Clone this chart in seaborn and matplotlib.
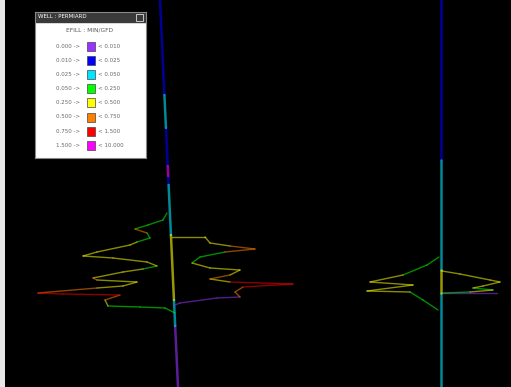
import numpy as np
import pandas as pd
import matplotlib
matplotlib.use("Agg")
import matplotlib.pyplot as plt
from matplotlib.patches import Rectangle
import seaborn as sns

# legend bins (permeability classes)
bin_low = ["0.000", "0.010", "0.025", "0.050", "0.250", "0.500", "0.750", "1.500"]
bin_high = ["0.010", "0.025", "0.050", "0.250", "0.500", "0.750", "1.500", "10.000"]
bin_colors = ["#9933ff", "#0000ff", "#00e5ff", "#00ff00", "#ffff00", "#ff8000", "#ff0000", "#ff00ff"]

# well tracks: top/bottom position of each well (x, depth)
well1_x = [160, 178]
well1_depth = [0, 387]
well2_x = [441, 441]
well2_depth = [0, 387]

# track intervals: depth top, depth bottom, class
well1_top = [0, 95, 128, 166, 176, 185, 235, 300, 326]
well1_bot = [95, 128, 166, 176, 185, 235, 300, 326, 387]
well1_cls = [1, 2, 1, 7, 1, 2, 4, 2, 0]
well2_top = [0, 160, 270, 293]
well2_bot = [160, 270, 293, 387]
well2_cls = [1, 2, 4, 2]

# profiles: offset (x), depth, class per vertex
w1_left_x = [167, 163, 148, 135, 147, 150, 137, 130, 97, 83, 113, 147, 157, 143, 123, 93, 97, 137, 123, 97,
             38, 63, 120, 105, 108, 140, 165, 175]
w1_left_d = [213, 220, 225, 229, 233, 238, 242, 245, 252, 256, 258, 262, 266, 269, 272, 278, 280, 282, 286, 288,
             293, 294, 295, 300, 306, 307, 308, 313]
w1_left_c = [3, 3, 3, 5, 3, 3, 4, 4, 4, 4, 4, 4, 3, 4, 4, 5, 4, 4, 4, 5,
             6, 6, 5, 4, 3, 3, 3, 3]

w1_right_x = [172, 205, 210, 230, 255, 225, 200, 192, 210, 240, 230, 210, 230, 293, 243, 235, 240, 217, 180, 175]
w1_right_d = [237, 237, 243, 246, 249, 252, 257, 263, 268, 270, 275, 279, 282, 284, 287, 292, 297, 298, 303, 305]
w1_right_c = [4, 4, 4, 5, 5, 3, 3, 4, 4, 4, 5, 4, 6, 6, 5, 5, 0, 0, 0, 0]

w2_left_x = [439, 427, 403, 370, 413, 367, 410, 423, 438]
w2_left_d = [257, 265, 275, 282, 285, 291, 292, 300, 310]
w2_left_c = [3, 3, 4, 4, 4, 4, 3, 3, 3]

w2_right_x = [442, 460, 490, 500, 483, 473, 493, 470, 443, 443, 497]
w2_right_d = [271, 274, 280, 282, 286, 288, 290, 292, 293, 293, 293]
w2_right_c = [4, 4, 4, 4, 4, 3, 4, 3, 0, 0, 0]


def segments(xs, ds, cs, name):
    rows = []
    for i in range(len(xs) - 1):
        for j in (i, i + 1):
            rows.append({"seg": f"{name}{i}", "x": xs[j], "depth": ds[j], "cls": cs[i]})
    return rows


def track(wx, wd, tops, bots, cls, name):
    rows = []
    for i, (t, b, c) in enumerate(zip(tops, bots, cls)):
        for d in (t, b):
            x = np.interp(d, wd, wx)
            rows.append({"seg": f"{name}{i}", "x": x, "depth": d, "cls": c})
    return rows


prof = pd.DataFrame(segments(w1_left_x, w1_left_d, w1_left_c, "a")
                    + segments(w1_right_x, w1_right_d, w1_right_c, "b")
                    + segments(w2_left_x, w2_left_d, w2_left_c, "c")
                    + segments(w2_right_x, w2_right_d, w2_right_c, "d"))
tracks = pd.DataFrame(track(well1_x, well1_depth, well1_top, well1_bot, well1_cls, "w1")
                      + track(well2_x, well2_depth, well2_top, well2_bot, well2_cls, "w2"))

sns.set_style("dark", {"axes.facecolor": "black"})
plt.rcParams['font.family'] = ['DejaVu Sans']

fig = plt.figure(figsize=(5.11, 3.87), dpi=100, facecolor="#e8e8e8")
ax = fig.add_axes([5 / 511, 0, 506 / 511, 1])
ax.set_facecolor("black")

pal = {i: c for i, c in enumerate(bin_colors)}
sns.lineplot(data=tracks, x="x", y="depth", hue="cls", units="seg", estimator=None, sort=False,
             palette=pal, legend=False, lw=1.8, alpha=0.6, ax=ax)
sns.lineplot(data=prof, x="x", y="depth", hue="cls", units="seg", estimator=None, sort=False,
             palette=pal, legend=False, lw=1.0, alpha=0.55, ax=ax)

ax.set_xlim(5, 511)
ax.set_ylim(387, 0)
ax.set_xticks([])
ax.set_yticks([])
ax.set_xlabel("")
ax.set_ylabel("")
for s in ax.spines.values():
    s.set_visible(False)

# legend window
lg = fig.add_axes([35 / 511, 1 - 158 / 387, 111 / 511, 146 / 387])
lg.set_xlim(0, 111)
lg.set_ylim(146, 0)
lg.set_facecolor("white")
lg.set_xticks([])
lg.set_yticks([])
for s in lg.spines.values():
    s.set_color("#888888")
    s.set_linewidth(0.8)
lg.add_patch(Rectangle((0, 0), 111, 10, color="#3a3a3a"))
lg.add_patch(Rectangle((101, 1.5), 7, 7, facecolor="#3a3a3a", edgecolor="#dddddd", lw=0.6))
lg.text(3, 5, "WELL : PERMIARD", color="white", fontsize=4, va="center", ha="left")
lg.text(55, 18, "EFILL : MIN/GFD", color="#555555", fontsize=4.2, va="center", ha="center")
for i, (lo, hi, c) in enumerate(zip(bin_low, bin_high, bin_colors)):
    yy = 34 + i * 14.2
    lg.text(45, yy, f"{lo} ->", color="#666666", fontsize=4, va="center", ha="right")
    lg.add_patch(Rectangle((52, yy - 4.5), 8, 9, facecolor=c, edgecolor="#444444", lw=0.5))
    lg.text(63, yy, f"< {hi}", color="#666666", fontsize=4, va="center", ha="left")

fig.savefig("out.png", dpi=100, facecolor=fig.get_facecolor())
